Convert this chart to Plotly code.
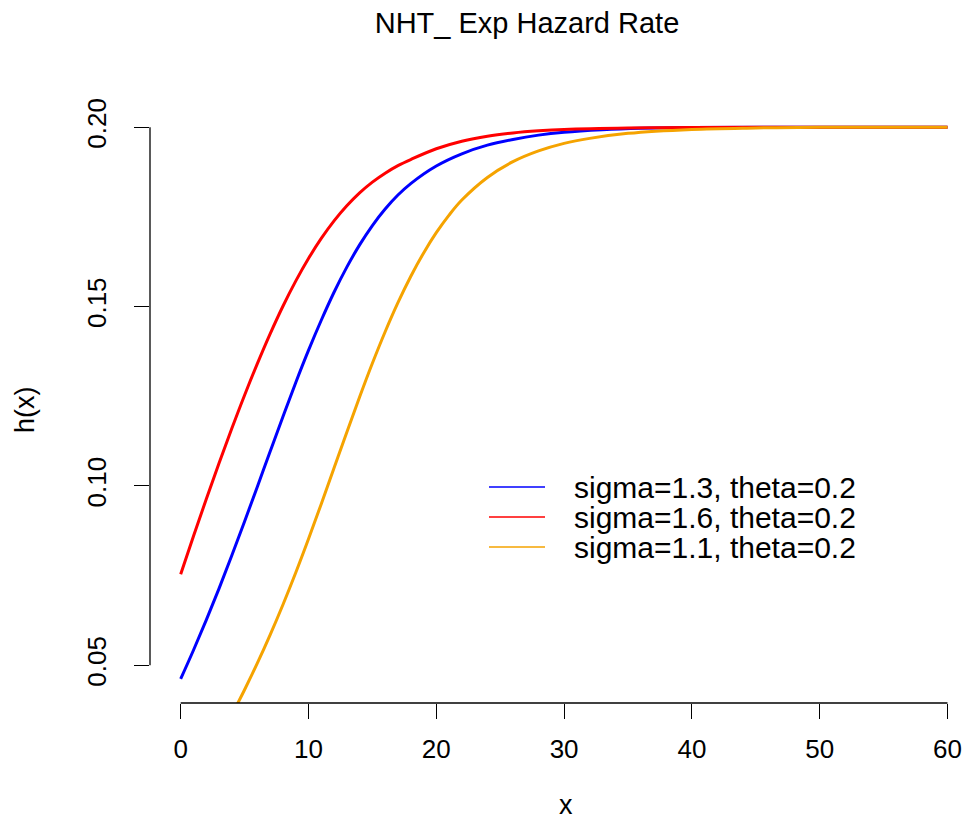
import plotly.graph_objects as go

# ---- data ----
x_blue = [0, 1, 2, 3, 4, 5, 6, 7, 8, 9, 10, 11, 12, 13, 14, 15, 16, 17, 18, 20, 22, 24, 26, 28, 30, 33, 36, 40, 50, 60]
h_blue = [0.0462, 0.0542, 0.0626, 0.0714, 0.0806, 0.0901, 0.0998, 0.1096, 0.1193, 0.1288, 0.1378, 0.1462, 0.1540,
          0.1610, 0.1672, 0.1726, 0.1772, 0.1811, 0.1843, 0.1892, 0.1926, 0.1950, 0.1966, 0.1978, 0.1986, 0.1993,
          0.1997, 0.1999, 0.2000, 0.2000]

x_red = [0, 1, 2, 3, 4, 5, 6, 7, 8, 9, 10, 11, 12, 13, 14, 15, 16, 17, 18, 20, 22, 24, 26, 28, 30, 35, 40, 50, 60]
h_red = [0.0754, 0.0860, 0.0963, 0.1063, 0.1160, 0.1253, 0.1341, 0.1424, 0.1501, 0.1571, 0.1634, 0.1690, 0.1739,
         0.1781, 0.1817, 0.1847, 0.1872, 0.1893, 0.1910, 0.1940, 0.1961, 0.1975, 0.1984, 0.1990, 0.1994, 0.1998,
         0.1999, 0.2000, 0.2000]

x_orange = [4, 5, 6, 7, 8, 9, 10, 11, 12, 13, 14, 15, 16, 17, 18, 19, 20, 21, 22, 24, 26, 28, 30, 32, 35, 40, 45, 50, 60]
h_orange = [0.0362, 0.0432, 0.0506, 0.0585, 0.0669, 0.0758, 0.0852, 0.0950, 0.1050, 0.1150, 0.1248, 0.1342, 0.1430,
            0.1511, 0.1584, 0.1649, 0.1706, 0.1755, 0.1797, 0.1860, 0.1904, 0.1934, 0.1955, 0.1969, 0.1983, 0.1994,
            0.1998, 0.2000, 0.2000]

series_names = ["sigma=1.3, theta=0.2", "sigma=1.6, theta=0.2", "sigma=1.1, theta=0.2"]
series_colors = ["#0000FF", "#FF0000", "#F5A300"]

x_ticks = [0, 10, 20, 30, 40, 50, 60]
y_ticks = [0.05, 0.10, 0.15, 0.20]
y_ticktext = ["0.05", "0.10", "0.15", "0.20"]

title_text = "NHT_ Exp Hazard Rate"
x_title = "x"
y_title = "h(x)"
FONT = "Liberation Sans, Arial, sans-serif"

# plot-area geometry (pixels)
W, H = 965, 821
L, R, T, B = 150, 0, 105, 118
PW, PH = W - L - R, H - T - B


def px_x(p):
    return (p - L) / PW


def px_y(p):
    return (H - B - p) / PH


fig = go.Figure()
for xs, ys, nm, col in zip([x_blue, x_red, x_orange], [h_blue, h_red, h_orange], series_names, series_colors):
    fig.add_trace(go.Scatter(x=xs, y=ys, mode="lines", line=dict(color=col, width=3, shape="spline"),
                             name=nm, showlegend=False))

shapes = []
annotations = []
# R-style axis lines spanning first to last tick
shapes.append(dict(type="line", xref="x", yref="paper", x0=x_ticks[0], x1=x_ticks[-1], y0=0, y1=0,
                   line=dict(color="black", width=1.3)))
shapes.append(dict(type="line", xref="paper", yref="y", x0=0, x1=0, y0=y_ticks[0], y1=y_ticks[-1],
                   line=dict(color="black", width=1.3)))

# legend box (R legend style: thin line sample + label)
leg_x0, leg_x1, leg_text_x, leg_y0, leg_dy = 489, 545, 572, 487, 30
for i, (nm, col) in enumerate(zip(series_names, series_colors)):
    yy = px_y(leg_y0 + i * leg_dy)
    shapes.append(dict(type="line", xref="paper", yref="paper", x0=px_x(leg_x0), x1=px_x(leg_x1),
                       y0=yy, y1=yy, line=dict(color=col, width=1.5)))
    annotations.append(dict(text=nm, xref="paper", yref="paper", x=px_x(leg_text_x), y=yy,
                            xanchor="left", yanchor="middle", showarrow=False, font=dict(size=30)))

annotations.append(dict(text=x_title, xref="paper", yref="paper", x=px_x(566), y=px_y(805),
                        showarrow=False, xanchor="center", yanchor="middle", font=dict(size=27)))
annotations.append(dict(text=y_title, xref="paper", yref="paper", x=px_x(25), y=px_y(410),
                        showarrow=False, xanchor="center", yanchor="middle", textangle=-90,
                        font=dict(size=27)))

fig.update_layout(
    width=W, height=H,
    margin=dict(l=L, r=R, t=T, b=B),
    plot_bgcolor="white", paper_bgcolor="white",
    font=dict(family=FONT, color="black", size=26),
    title=dict(text=title_text, x=527 / W, xref="container", xanchor="center",
               y=1 - 23 / H, yref="container", yanchor="middle", font=dict(size=29)),
    showlegend=False,
    shapes=shapes,
    annotations=annotations,
    xaxis=dict(range=[-2.4, 61.37], showgrid=False, zeroline=False, showline=False,
               tickmode="array", tickvals=x_ticks, ticks="outside", ticklen=15, tickwidth=1.3,
               tickcolor="black", ticklabelstandoff=8),
    yaxis=dict(range=[0.0395, 0.2062], showgrid=False, zeroline=False, showline=False,
               tickmode="array", tickvals=y_ticks, ticktext=y_ticktext, ticks="outside", ticklen=15,
               tickwidth=1.3, tickcolor="black", tickangle=-90, ticklabelstandoff=18),
)

fig.write_html("out.html")
